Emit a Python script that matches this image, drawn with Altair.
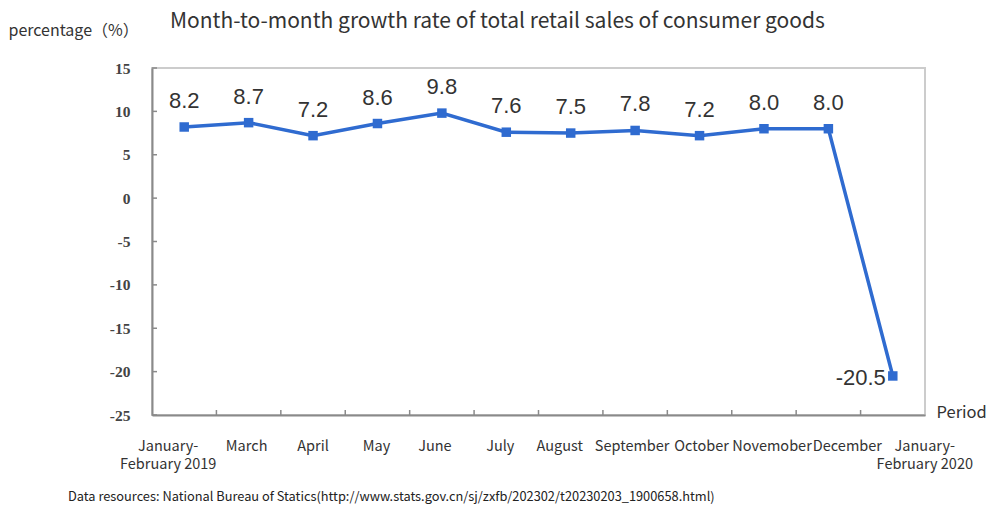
import altair as alt
import pandas as pd

periods = ["January-\nFebruary 2019", "March", "April", "May", "June", "July",
           "August", "September", "October", "Novemober", "December",
           "January-\nFebruary 2020"]
values = [8.2, 8.7, 7.2, 8.6, 9.8, 7.6, 7.5, 7.8, 7.2, 8.0, 8.0, -20.5]
labels = ["8.2", "8.7", "7.2", "8.6", "9.8", "7.6", "7.5", "7.8", "7.2", "8.0", "8.0", "-20.5"]
y_ticks = [-25, -20, -15, -10, -5, 0, 5, 10, 15]
label_shift = [-16, -2, 0, -1, -7, -6, -11, -3, 2, 8, 19, 32]

df = pd.DataFrame({"period": periods, "value": values, "label": labels})
xtick_df = pd.DataFrame({"period": periods[1:]})
ytick_df = pd.DataFrame({"value": y_ticks})

BLUE = "#2f6bd0"
AXIS_GRAY = "#8a8a8a"
W, H = 773, 347

shift_arr = "[" + ",".join(str(v) for v in label_shift) + "]"

x_axis = alt.Axis(
    title="Period", titleFont="Noto Sans CJK SC", titleFontSize=16.5,
    titleFontWeight="normal", titleColor="#333", titleAngle=0,
    titleAlign="left", titleBaseline="middle", titleX=W + 11, titleY=-3,
    labelExpr="split(datum.label, '\\n')", labelAngle=0,
    labelFont="Noto Sans CJK SC", labelFontSize=14.5, labelColor="#333",
    labelBaseline="middle", labelPadding=31, labelLineHeight=18,
    labelOffset=alt.expr(shift_arr + "[round(datum.index * 11)]"),
    ticks=False, domainColor=AXIS_GRAY, domainWidth=2,
    grid=False, labelOverlap=False,
)
x_scale = alt.Scale(paddingInner=0, paddingOuter=0)

y_axis = alt.Axis(
    values=y_ticks, title="percentage（%）",
    labelExpr="'' + datum.value",
    titleFont="Noto Sans CJK SC", titleFontSize=16, titleFontWeight="normal",
    titleColor="#333", titleAngle=0, titleAlign="left", titleBaseline="middle",
    titleX=-144, titleY=-38,
    labelFont="Liberation Serif", labelFontSize=15.5, labelFontWeight="bold",
    labelColor="#444", labelPadding=22, ticks=False,
    domainColor=AXIS_GRAY, domainWidth=2, grid=False,
)
y_scale = alt.Scale(domain=[-25, 15], nice=False, zero=False)

x_enc = alt.X("period:N", sort=periods, scale=x_scale, axis=x_axis)
y_enc = alt.Y("value:Q", scale=y_scale, axis=y_axis)

base = alt.Chart(df).encode(x=x_enc, y=y_enc)

line = base.mark_line(color=BLUE, strokeWidth=3.5)
pts = base.mark_point(shape="square", filled=True, size=90, color=BLUE, opacity=1)

pos_labels = base.transform_filter("datum.value >= 0").mark_text(
    font="Liberation Sans", fontSize=22, color="#333", dy=-26, baseline="middle"
).encode(text="label:N")

neg_labels = base.transform_filter("datum.value < 0").mark_text(
    font="Liberation Sans", fontSize=22, color="#333", dx=-7, dy=2,
    align="right", baseline="middle"
).encode(text="label:N")

# inward tick marks on the axes
xticks = alt.Chart(xtick_df).mark_rule(color=AXIS_GRAY, strokeWidth=1.5).encode(
    x=alt.X("period:N", sort=periods, scale=x_scale, axis=x_axis, bandPosition=0),
    y=alt.value(H - 5), y2=alt.value(H),
)
yticks = alt.Chart(ytick_df).mark_rule(color=AXIS_GRAY, strokeWidth=1.5).encode(
    y=alt.Y("value:Q", scale=y_scale, axis=y_axis),
    x=alt.value(0), x2=alt.value(5),
)

title_df = pd.DataFrame({"t": ["Month-to-month growth rate of total retail sales of consumer goods"]})
title = alt.Chart(title_df).mark_text(
    font="Noto Sans CJK SC", fontSize=21, color="#333", align="left", baseline="alphabetic"
).encode(text="t:N", x=alt.value(18), y=alt.value(-40))

foot_df = pd.DataFrame({"t": ["Data resources: National Bureau of Statics(http://www.stats.gov.cn/sj/zxfb/202302/t20230203_1900658.html)"]})
foot = alt.Chart(foot_df).mark_text(
    font="Noto Sans CJK SC", fontSize=12.8, color="#222", align="left", baseline="middle"
).encode(text="t:N", x=alt.value(-84), y=alt.value(H + 82))

chart = alt.layer(xticks, yticks, line, pts, pos_labels, neg_labels, title, foot).properties(
    width=W, height=H,
    autosize=alt.AutoSizeParams(type="none"),
    padding={"left": 144, "top": 60, "right": 62, "bottom": 90},
).configure_view(stroke="#cccccc", strokeWidth=2)

chart.save("out.html", embed_options={"renderer": "svg", "actions": False})
